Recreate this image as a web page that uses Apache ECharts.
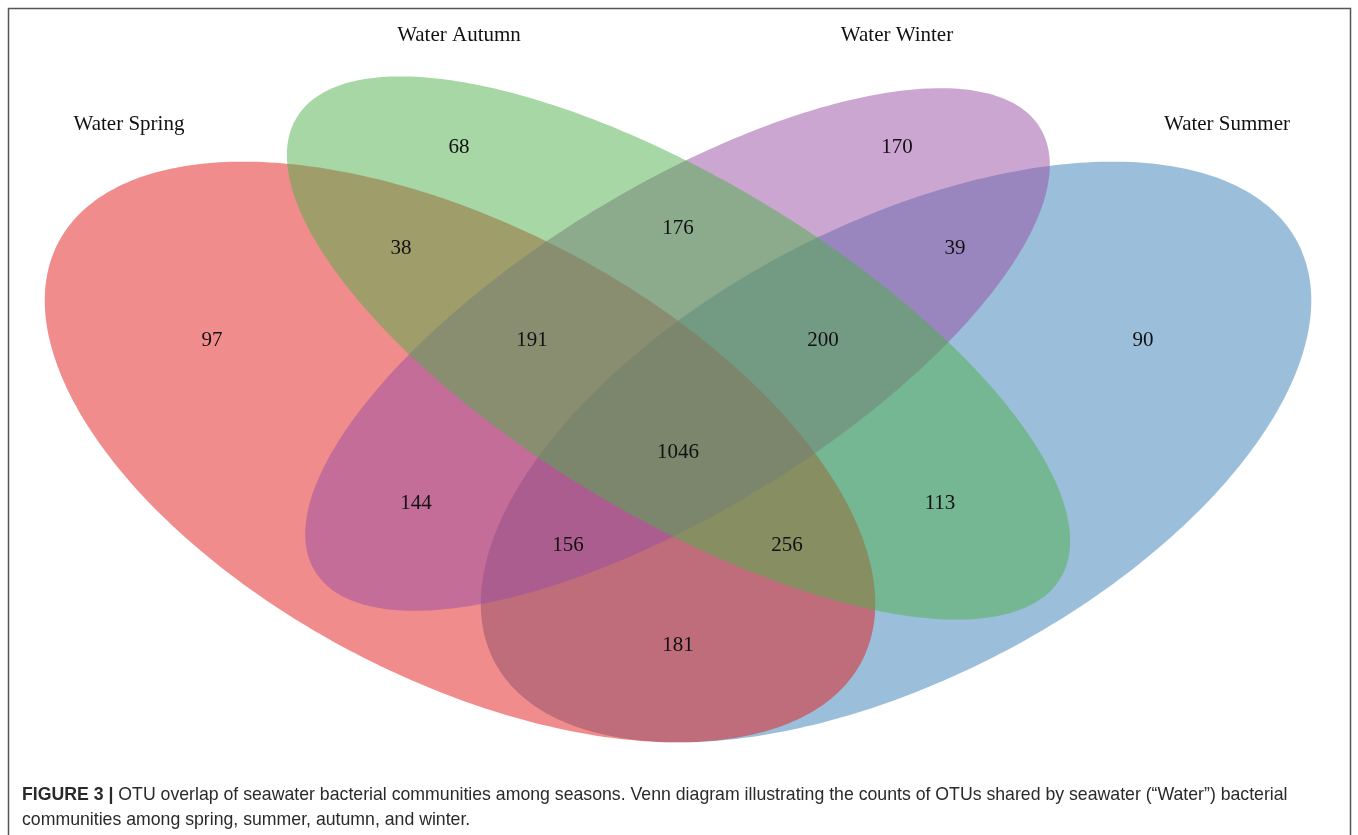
<!DOCTYPE html>
<html>
<head>
<meta charset="utf-8">
<script src="https://cdn.jsdelivr.net/npm/echarts@6/dist/echarts.min.js"></script>
<style>
html,body{margin:0;padding:0;background:#fff;}
#chart{width:1358px;height:835px;}
</style>
</head>
<body>
<div id="chart"></div>
<script>
// ---- data ----
const setNames = ['Water Spring', 'Water Summer', 'Water Autumn', 'Water Winter'];
// region membership keys: S=Spring, U=Summer, A=Autumn, W=Winter
const regionKeys = ['S', 'A', 'W', 'U', 'SA', 'AW', 'WU', 'SAW', 'AWU', 'SAWU', 'SW', 'AU', 'SWU', 'SAU', 'SU'];
const regionCounts = [97, 68, 170, 90, 38, 176, 39, 191, 200, 1046, 144, 113, 156, 256, 181];

// ---- layout (pixel-space coordinates of the diagram) ----
const ellipseLayout = { // cx, cy, semi-major, semi-minor, rotation (deg)
  'Water Spring': [460, 452, 453, 227, 27.5],
  'Water Summer': [896, 452, 453, 227, -27.5],
  'Water Autumn': [678.5, 348, 446, 168, 31.1],
  'Water Winter': [677.5, 349.5, 425, 162, -31.45]
};
const setColors = {
  'Water Spring': '#E41A1C',
  'Water Summer': '#377EB8',
  'Water Autumn': '#4DAF4A',
  'Water Winter': '#984EA3'
};
const drawOrder = ['Water Summer', 'Water Spring', 'Water Winter', 'Water Autumn'];
const setLabelPos = {
  'Water Spring': [129, 124],
  'Water Autumn': [459, 35],
  'Water Winter': [897, 35],
  'Water Summer': [1227, 124]
};
const regionLabelPos = {
  S: [212, 340], A: [459, 147], W: [897, 147], U: [1143, 340],
  SA: [401, 248], AW: [678, 228], WU: [955, 248],
  SAW: [532, 340], AWU: [823, 340], SAWU: [678, 452],
  SW: [416, 503], AU: [940, 503], SWU: [568, 545], SAU: [787, 545], SU: [678, 645]
};

const chart = echarts.init(document.getElementById('chart'), null, {renderer: 'canvas'});

const ellipseData = drawOrder.map(n => ellipseLayout[n].concat([setNames.indexOf(n)]));
const regionData = regionKeys.map((k, i) => [regionLabelPos[k][0], regionLabelPos[k][1], regionCounts[i]]);
const setLabelData = setNames.map((n, i) => [setLabelPos[n][0], setLabelPos[n][1], i]);

const serif = '"Liberation Serif", "DejaVu Serif", serif';
const sans = '"Liberation Sans", Arial, sans-serif';

chart.setOption({
  animation: false,
  backgroundColor: '#ffffff',
  grid: {left: 0, right: 0, top: 0, bottom: 0},
  xAxis: {type: 'value', min: 0, max: 1358, show: false},
  yAxis: {type: 'value', min: 0, max: 835, inverse: true, show: false},
  series: [
    {
      type: 'custom',
      coordinateSystem: 'cartesian2d',
      data: ellipseData,
      renderItem: function (params, api) {
        const cx = api.value(0), cy = api.value(1), a = api.value(2), b = api.value(3);
        const th = api.value(4) * Math.PI / 180;
        const name = setNames[api.value(5)];
        const pts = [];
        for (let i = 0; i < 360; i++) {
          const t = i / 360 * Math.PI * 2;
          const x = cx + a * Math.cos(th) * Math.cos(t) - b * Math.sin(th) * Math.sin(t);
          const y = cy + a * Math.sin(th) * Math.cos(t) + b * Math.cos(th) * Math.sin(t);
          pts.push(api.coord([x, y]));
        }
        return {
          type: 'polygon',
          shape: {points: pts},
          style: {fill: setColors[name], opacity: 0.5}
        };
      },
      z: 1
    },
    {
      type: 'custom',
      coordinateSystem: 'cartesian2d',
      data: regionData,
      renderItem: function (params, api) {
        const p = api.coord([api.value(0), api.value(1)]);
        return {
          type: 'text',
          style: {
            text: String(api.value(2)), x: p[0], y: p[1],
            align: 'center', verticalAlign: 'middle',
            font: '21px ' + serif, fill: '#111'
          }
        };
      },
      z: 5
    },
    {
      type: 'custom',
      coordinateSystem: 'cartesian2d',
      data: setLabelData,
      renderItem: function (params, api) {
        const p = api.coord([api.value(0), api.value(1)]);
        return {
          type: 'text',
          style: {
            text: setNames[api.value(2)], x: p[0], y: p[1],
            align: 'center', verticalAlign: 'middle',
            font: '21px ' + serif, fill: '#111'
          }
        };
      },
      z: 5
    }
  ],
  graphic: [
    {type: 'rect', shape: {x: 8.5, y: 8.5, width: 1342, height: 900},
     style: {fill: 'none', stroke: '#555', lineWidth: 1.5}, z: 10},
    {type: 'text', left: 22, top: 786, z: 10,
     style: {
       text: '{b|FIGURE 3 |} OTU overlap of seawater bacterial communities among seasons. Venn diagram illustrating the counts of OTUs shared by seawater (\u201cWater\u201d) bacterial',
       font: '17.7px ' + sans, fill: '#2a2a2a',
       rich: {b: {fontWeight: 'bold', fontSize: 17.7, fontFamily: sans, fill: '#2a2a2a'}}
     }},
    {type: 'text', left: 22, top: 811, z: 10,
     style: {
       text: 'communities among spring, summer, autumn, and winter.',
       font: '17.7px ' + sans, fill: '#2a2a2a'
     }}
  ]
});
</script>
</body>
</html>
